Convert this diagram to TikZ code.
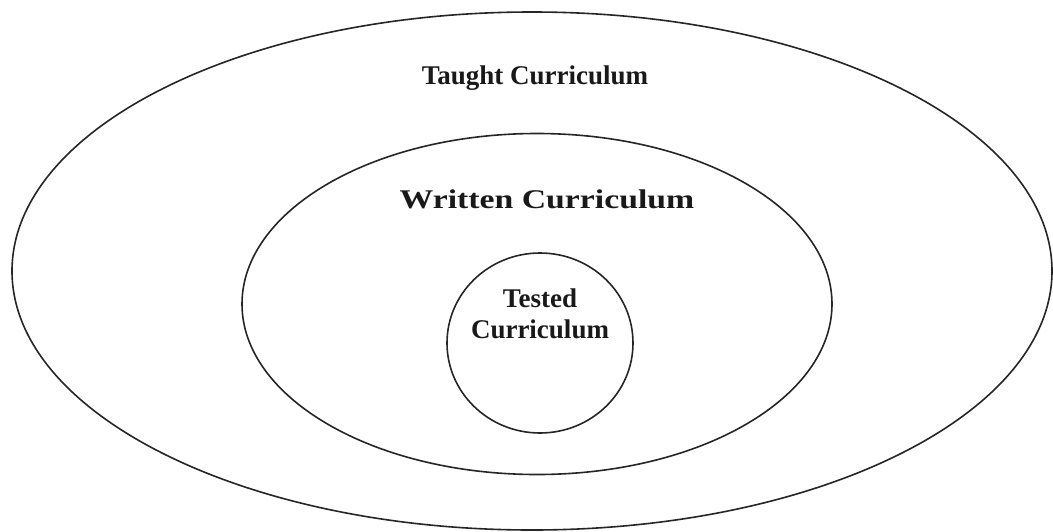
\documentclass[tikz,border=0pt]{standalone}
\usepackage{fontspec}
\setmainfont{Liberation Serif}
\usetikzlibrary{shapes.geometric}
\begin{document}
\begin{tikzpicture}[x=1pt,y=-1pt,
  ring/.style={draw=black!85,line width=1.6pt,ellipse,inner sep=0pt},
  lbl/.style={font=\fontsize{27}{31}\selectfont\bfseries,text=black!90,align=center}]
  \useasboundingbox[fill=white] (0,0) rectangle (1053,531);
  % nested curriculum rings
  \node[ring,minimum width=1040pt,minimum height=518pt] (taught) at (532,271) {};
  \node[ring,minimum width=590pt,minimum height=341pt] (written) at (537,304) {};
  \node[ring,minimum width=186pt,minimum height=180pt] (tested) at (540,343) {};
  % labels
  \node[lbl] (taughtlbl) at (535,78) {Taught Curriculum};
  \node[lbl] (writtenlbl) at (547,199) {\scalebox{1.25}[1]{Written Curriculum}};
  \node[lbl] (testedlbl) at (540,314) {Tested\\Curriculum};
\end{tikzpicture}
\end{document}
